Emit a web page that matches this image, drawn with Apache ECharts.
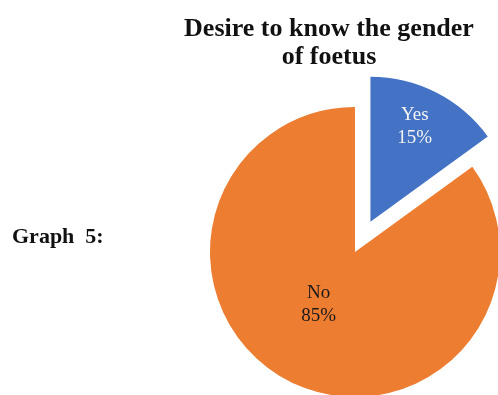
<!DOCTYPE html>
<html>
<head>
<meta charset="utf-8">
<script src="https://cdn.jsdelivr.net/npm/echarts@6/dist/echarts.min.js"></script>
<style>
  html, body { margin: 0; padding: 0; background: #fff; }
  #chart { width: 498px; height: 395px; }
</style>
</head>
<body>
<div id="chart"></div>
<script>
// Survey answers: share of respondents wanting to know the baby's gender
const categories = ['Yes', 'No'];
const shares = [15, 85];
const sliceColors = ['#4472C4', '#ED7D31'];
const labelColors = ['#f2f2f2', '#1a1a1a'];
// Small nudges so labels sit where the printed figure has them
const labelShift = [[10, -28], [-2, -15]];

const serif = '"Liberation Serif", "DejaVu Serif", serif';

const chart = echarts.init(document.getElementById('chart'), null, { renderer: 'canvas' });

chart.setOption({
  animation: false,
  backgroundColor: '#ffffff',
  title: [
    {
      text: 'Desire to know the gender\nof foetus',
      left: 324,
      top: 10,
      textAlign: 'center',
      textStyle: {
        fontFamily: serif,
        fontWeight: 'bold',
        fontSize: 26,
        lineHeight: 28,
        color: '#111'
      }
    },
    {
      text: 'Graph  5:',
      left: 7,
      top: 221,
      textStyle: {
        fontFamily: serif,
        fontWeight: 'bold',
        fontSize: 22,
        color: '#111'
      }
    }
  ],
  series: [{
    type: 'pie',
    center: [355, 252],
    radius: 145,
    startAngle: 90,
    clockwise: true,
    selectedMode: 'single',
    selectedOffset: 34,
    silent: true,
    label: {
      show: true,
      position: 'inside',
      fontFamily: serif,
      fontSize: 19,
      lineHeight: 23,
      formatter: p => p.name + '\n' + p.value + '%'
    },
    labelLine: { show: false },
    labelLayout: p => ({ dx: labelShift[p.dataIndex][0], dy: labelShift[p.dataIndex][1] }),
    data: categories.map((c, i) => ({
      name: c,
      value: shares[i],
      selected: i === 0,
      itemStyle: { color: sliceColors[i] },
      label: { color: labelColors[i] }
    }))
  }]
});
</script>
</body>
</html>
